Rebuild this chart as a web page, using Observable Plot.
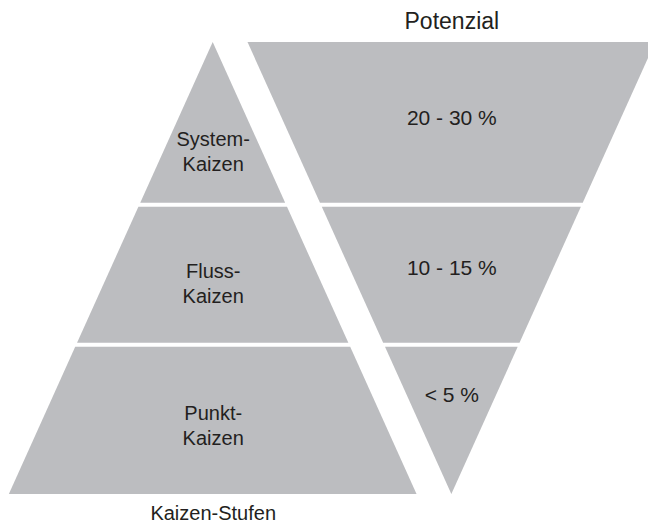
<!DOCTYPE html>
<html><head><meta charset="utf-8">
<script src="https://cdn.jsdelivr.net/npm/d3@7"></script>
<script src="https://cdn.jsdelivr.net/npm/@observablehq/plot@0.6"></script>
<style>body{margin:0;background:#fff;}</style>
</head><body><div id="chart"></div>
<script>
// Kaizen levels (bottom to top) and their improvement potential
const levels = ["Punkt-\nKaizen", "Fluss-\nKaizen", "System-\nKaizen"];
const potentials = ["< 5 %", "10 - 15 %", "20 - 30 %"];
// share of the pyramid height at which each level starts/ends
const levelBounds = [0, 0.33, 0.64, 1];
const axisTitles = {left: "Kaizen-Stufen", right: "Potenzial"};

const GRAY = "#bcbdc0", INK = "#231f20";
const halfBase = 0.451, offset = 0.528, gap = 0.009;
const pyrHalf = y => halfBase * (1 - y);
const funHalf = y => halfBase * y;
const centroid = (y0, y1, w) => {
  const a = w(y0), b = w(y1);
  return y0 + (y1 - y0) * (a + 2 * b) / (3 * (a + b));
};

const pyramid = [], funnel = [], pyrLabels = [], funLabels = [];
levels.forEach((name, i) => {
  const lo = levelBounds[i], hi = levelBounds[i + 1];
  const y0 = lo + (i > 0 ? gap / 2 : 0);
  const y1 = hi - (i < levels.length - 1 ? gap / 2 : 0);
  for (const y of [y0, y1]) {
    pyramid.push({band: name, y, x1: -pyrHalf(y), x2: pyrHalf(y)});
    funnel.push({band: potentials[i], y, x1: offset - funHalf(y), x2: offset + funHalf(y)});
  }
  pyrLabels.push({text: name, x: 0, y: centroid(lo, hi, pyrHalf)});
  funLabels.push({text: potentials[i], x: offset, y: centroid(lo, hi, funHalf)});
});

const chart = Plot.plot({
  width: 648, height: 526, margin: 0,
  style: {fontFamily: "'Liberation Sans', Arial, sans-serif", background: "#fff", color: INK},
  x: {domain: [-0.4706, 0.9631], range: [0, 648], axis: null},
  y: {domain: [0, 1], range: [494, 42], axis: null},
  marks: [
    Plot.areaX(pyramid, {y: "y", x1: "x1", x2: "x2", z: "band", fill: GRAY}),
    Plot.areaX(funnel, {y: "y", x1: "x1", x2: "x2", z: "band", fill: GRAY}),
    Plot.text(pyrLabels, {x: "x", y: "y", text: "text", fill: INK, fontSize: 20, lineHeight: 1.25}),
    Plot.text(funLabels, {x: "x", y: "y", text: "text", fill: INK, fontSize: 21}),
    Plot.text([axisTitles.right], {x: offset, y: 1.046, text: d => d, fill: INK, fontSize: 23}),
    Plot.text([axisTitles.left], {x: 0, y: -0.042, text: d => d, fill: INK, fontSize: 20})
  ]
});
document.getElementById("chart").appendChild(chart);
</script>
</body></html>
